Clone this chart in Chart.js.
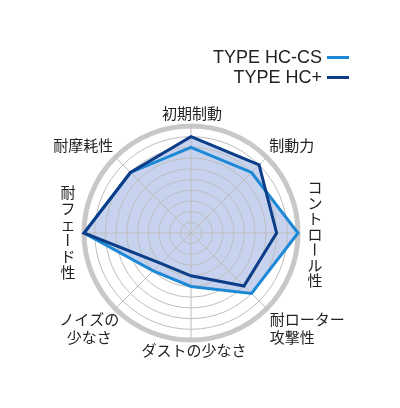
<!DOCTYPE html>
<html>
<head>
<meta charset="utf-8">
<script src="https://cdn.jsdelivr.net/npm/chart.js@4.4.0/dist/chart.umd.min.js"></script>
<style>
  html, body { margin: 0; padding: 0; background: #fff; }
  #wrap { position: relative; width: 400px; height: 408px; }
  #legend { position: absolute; right: 51px; top: 47px; font-family: "Liberation Sans", Arial, sans-serif; font-size: 18px; color: #222; }
  .row { display: flex; justify-content: flex-end; align-items: center; height: 20px; }
  .sw { display: inline-block; width: 22px; height: 3px; margin-left: 5px; }
</style>
</head>
<body>
<div id="wrap">
  <canvas id="radar"></canvas>
  <div id="legend"></div>
</div>
<script>
// axes, clockwise from the top
const axisLabels = ['初期制動', '制動力', 'コントロール性', '耐ローター\n攻撃性', 'ダストの少なさ', 'ノイズの\n少なさ', '耐フェード性', '耐摩耗性'];
const hcCs = [8, 8, 10, 8, 5, 5, 10, 8];
const hcPlus = [9, 9, 8, 7, 4, 4, 10, 8];
const seriesNames = ['TYPE HC-CS', 'TYPE HC+'];
const seriesColors = ['#1c88d6', '#0c3d88'];
const scaleMin = 0;
const scaleMax = 10;

// where each axis name sits relative to the end of its spoke
const labelLayout = [
  { dx: 1, dy: -13, align: 'center' },
  { dx: 25, dy: -12, align: 'center' },
  { dx: 17, dy: 1, vertical: true, lh: 15.5 },
  { dx: 3, dy: 20, align: 'left' },
  { dx: 3, dy: 10, align: 'center' },
  { dx: -26, dy: 20, align: 'center' },
  { dx: -16, dy: -1, vertical: true, lh: 16 },
  { dx: -32, dy: -12, align: 'center' }
];

const axisText = {
  id: 'axisText',
  afterDraw(chart) {
    const scale = chart.scales.r;
    const ctx = chart.ctx;
    ctx.save();
    ctx.font = '15px "Noto Sans CJK JP"';
    ctx.fillStyle = '#222';
    ctx.textBaseline = 'middle';
    axisLabels.forEach((lab, i) => {
      const p = scale.getPointPosition(i, scale.drawingArea);
      const L = labelLayout[i];
      const x = p.x + L.dx;
      const y = p.y + L.dy;
      if (L.vertical) {
        const chars = [...lab];
        const top = y - (chars.length - 1) * L.lh / 2;
        ctx.textAlign = 'center';
        chars.forEach((ch, k) => {
          const cy = top + k * L.lh;
          if (ch === 'ー') {
            ctx.save();
            ctx.translate(x, cy);
            ctx.rotate(Math.PI / 2);
            ctx.fillText(ch, 0, 0);
            ctx.restore();
          } else {
            ctx.fillText(ch, x, cy);
          }
        });
      } else {
        const lines = lab.split('\n');
        const lh = 18;
        const top = y - (lines.length - 1) * lh / 2;
        ctx.textAlign = L.align;
        lines.forEach((t, k) => ctx.fillText(t, x, top + k * lh));
      }
    });
    ctx.restore();
  }
};

new Chart(document.getElementById('radar'), {
  type: 'radar',
  data: {
    labels: axisLabels,
    datasets: [
      {
        label: seriesNames[1],
        data: hcPlus,
        borderColor: seriesColors[1],
        backgroundColor: '#c7d3ee',
        borderWidth: 3,
        pointRadius: 0,
        fill: true,
        order: 0
      },
      {
        label: seriesNames[0],
        data: hcCs,
        borderColor: seriesColors[0],
        backgroundColor: '#c7d3ee',
        borderWidth: 3,
        pointRadius: 0,
        fill: true,
        order: 1
      }
    ]
  },
  options: {
    responsive: true,
    maintainAspectRatio: false,
    animation: false,
    layout: { padding: { left: 84, right: 102, top: 126, bottom: 68 } },
    plugins: {
      legend: { display: false },
      tooltip: { enabled: false },
      filler: { drawTime: 'beforeDraw' }
    },
    scales: {
      r: {
        min: scaleMin,
        max: scaleMax,
        ticks: { display: false, stepSize: 1 },
        pointLabels: { display: false },
        grid: {
          circular: true,
          color: c => c.index === 10 ? '#c8c8c8' : '#bdbdbd',
          lineWidth: c => c.index === 10 ? 5 : 1
        },
        angleLines: { color: '#bdbdbd', lineWidth: 1 }
      }
    }
  },
  plugins: [axisText]
});

// legend: name first, short line after it
const legend = document.getElementById('legend');
seriesNames.forEach((name, i) => {
  const row = document.createElement('div');
  row.className = 'row';
  row.innerHTML = '<span>' + name + '</span><span class="sw" style="background:' + seriesColors[i] + '"></span>';
  legend.appendChild(row);
});
</script>
</body>
</html>
